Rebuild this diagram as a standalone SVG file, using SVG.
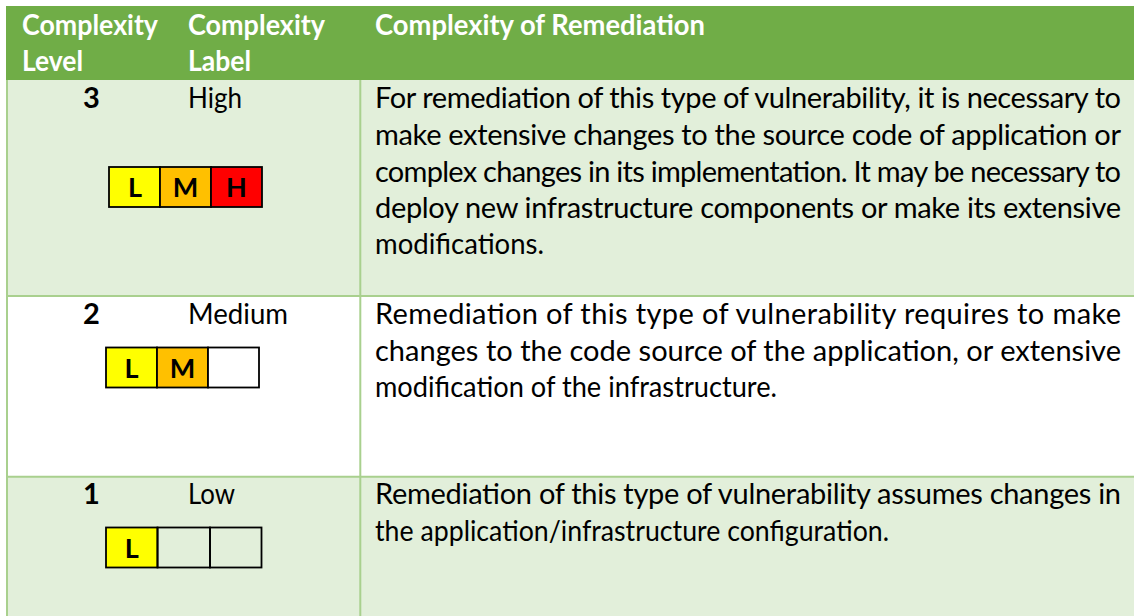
<svg xmlns="http://www.w3.org/2000/svg" width="1134" height="616" viewBox="0 0 1134 616">
<style>
.hdr{font-family:Lato,"Liberation Sans",sans-serif;font-size:29px;font-weight:bold;fill:#FFFFFF}
.num{font-family:Lato,"Liberation Sans",sans-serif;font-size:29px;font-weight:bold;fill:#000000}
.txt{font-family:Lato,"Liberation Sans",sans-serif;font-size:29px;fill:#000000}
.lbl{font-family:Lato,"Liberation Sans",sans-serif;font-size:27px;font-weight:bold;fill:#000000;text-anchor:middle}
.cell{stroke:#000000;stroke-width:1.8}
.grid{stroke:#A9D08E;stroke-width:2;fill:none}
</style>
<rect x="0" y="0" width="1134" height="616" fill="#FFFFFF"/>
<g id="header">
<rect x="6" y="6" width="1128" height="74" fill="#70AD47"/>
<text class="hdr" x="22" y="35" textLength="136" lengthAdjust="spacingAndGlyphs">Complexity</text>
<text class="hdr" x="22" y="71" textLength="61" lengthAdjust="spacingAndGlyphs">Level</text>
<text class="hdr" x="188" y="35" textLength="137" lengthAdjust="spacingAndGlyphs">Complexity</text>
<text class="hdr" x="188" y="71" textLength="63" lengthAdjust="spacingAndGlyphs">Label</text>
<text class="hdr" x="375" y="35" textLength="330" lengthAdjust="spacingAndGlyphs">Complexity of Remediation</text>
</g>
<g id="row-high">
<rect x="7" y="80" width="1127" height="216" fill="#E2EFDA"/>
<text class="num" x="83" y="108">3</text>
<text class="txt" x="188" y="108" textLength="54" lengthAdjust="spacingAndGlyphs">High</text>
<rect class="cell" x="109" y="167" width="51" height="40" fill="#FFFF00"/>
<rect class="cell" x="160" y="167" width="51" height="40" fill="#FFC000"/>
<rect class="cell" x="211" y="167" width="51" height="40" fill="#FF0000"/>
<text class="lbl" x="135" y="197">L</text>
<text class="lbl" x="185.5" y="197">M</text>
<text class="lbl" x="236.5" y="197">H</text>
<text class="txt" x="375" y="108" textLength="746" lengthAdjust="spacing">For remediation of this type of vulnerability, it is necessary to</text>
<text class="txt" x="375" y="145" textLength="746" lengthAdjust="spacing">make extensive changes to the source code of application or</text>
<text class="txt" x="375" y="181.5" textLength="746" lengthAdjust="spacing">complex changes in its implementation.  It may be necessary to</text>
<text class="txt" x="375" y="218" textLength="746" lengthAdjust="spacing">deploy new infrastructure components or make its extensive</text>
<text class="txt" x="375" y="254" textLength="169" lengthAdjust="spacingAndGlyphs">modifications.</text>
</g>
<g id="row-medium">
<rect x="7" y="296" width="1127" height="181" fill="#FFFFFF"/>
<text class="num" x="83" y="323.5">2</text>
<text class="txt" x="188" y="323.5" textLength="100" lengthAdjust="spacingAndGlyphs">Medium</text>
<rect class="cell" x="106" y="347.5" width="51" height="40" fill="#FFFF00"/>
<rect class="cell" x="157" y="347.5" width="51" height="40" fill="#FFC000"/>
<rect class="cell" x="208" y="347.5" width="51" height="40" fill="#FFFFFF"/>
<text class="lbl" x="131.5" y="378">L</text>
<text class="lbl" x="182.5" y="378">M</text>
<text class="txt" x="375" y="324" textLength="746" lengthAdjust="spacing">Remediation of this type of vulnerability requires to make</text>
<text class="txt" x="375" y="360.5" textLength="746" lengthAdjust="spacing">changes to the code source of the application, or extensive</text>
<text class="txt" x="375" y="397" textLength="402" lengthAdjust="spacingAndGlyphs">modification of the infrastructure.</text>
</g>
<g id="row-low">
<rect x="7" y="477" width="1127" height="139" fill="#E2EFDA"/>
<text class="num" x="83" y="503.5">1</text>
<text class="txt" x="188" y="503.5" textLength="47" lengthAdjust="spacingAndGlyphs">Low</text>
<rect class="cell" x="106" y="527.5" width="51.5" height="40" fill="#FFFF00"/>
<rect class="cell" x="157.5" y="527.5" width="52.5" height="40" fill="none"/>
<rect class="cell" x="210" y="527.5" width="51.5" height="40" fill="none"/>
<text class="lbl" x="131.75" y="558">L</text>
<text class="txt" x="375" y="504" textLength="746" lengthAdjust="spacing">Remediation of this type of vulnerability assumes changes in</text>
<text class="txt" x="375" y="540.5" textLength="514" lengthAdjust="spacingAndGlyphs">the application/infrastructure configuration.</text>
</g>
<g id="connectors">
<line class="grid" x1="7" y1="80" x2="7" y2="616"/>
<line class="grid" x1="360.3" y1="80" x2="360.3" y2="616"/>
<line class="grid" x1="7" y1="296" x2="1134" y2="296"/>
<line class="grid" x1="7" y1="476.8" x2="1134" y2="476.8"/>
</g>
</svg>
